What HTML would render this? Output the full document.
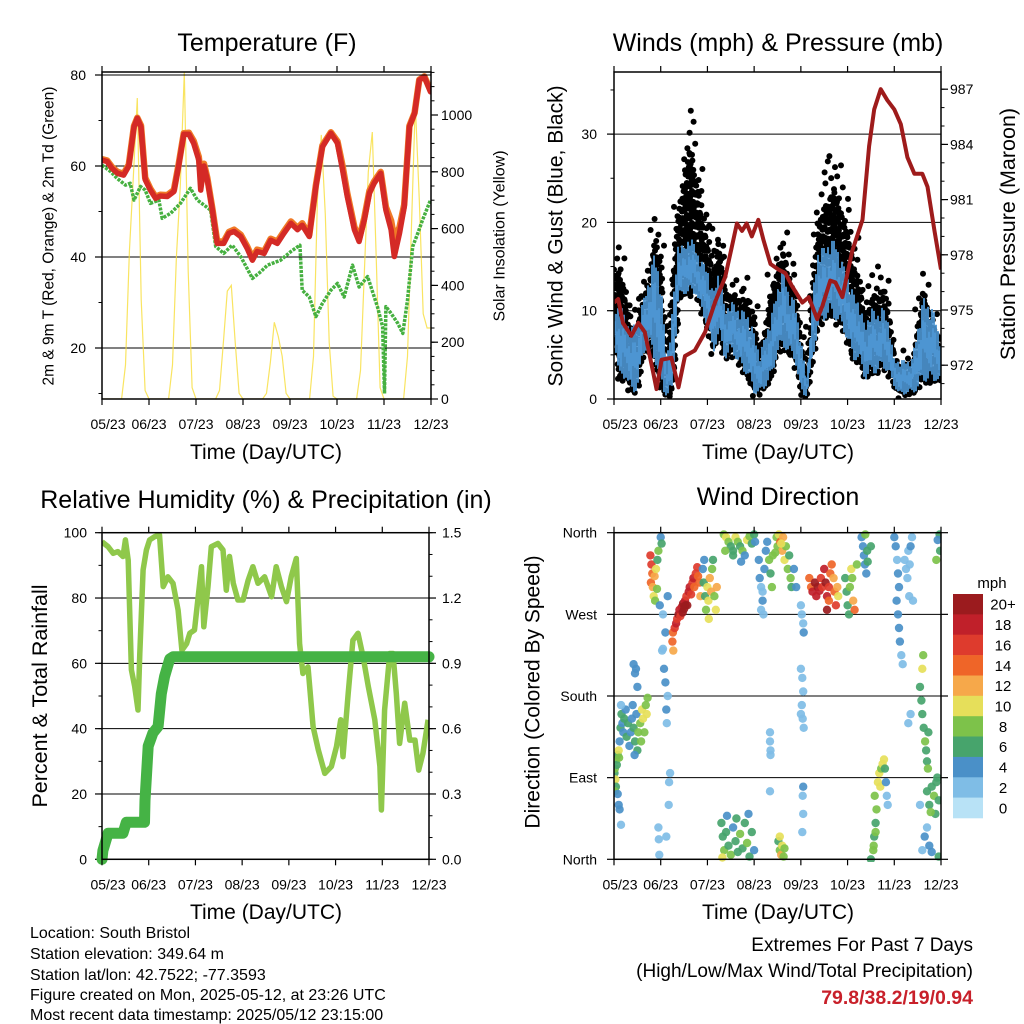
<!DOCTYPE html>
<html><head><meta charset="utf-8"><style>
html,body{margin:0;padding:0;background:#fff;}
svg{display:block;font-family:"Liberation Sans",Arial,sans-serif;}
</style></head><body>
<svg id="chart" width="1024" height="1024" viewBox="0 0 1024 1024" xmlns="http://www.w3.org/2000/svg">
<rect x="0" y="0" width="1024" height="1024" fill="#fff"/>
<defs>
<clipPath id="cT"><rect x="102" y="72" width="329" height="327"/></clipPath>
<clipPath id="cW"><rect x="614" y="72" width="327" height="327"/></clipPath>
<clipPath id="cR"><rect x="102" y="532.7" width="327" height="326.6"/></clipPath>
<clipPath id="cD"><rect x="614" y="530" width="327" height="332"/></clipPath>
</defs>
<text x="267" y="51" font-size="25" text-anchor="middle">Temperature (F)</text>
<text x="778" y="51" font-size="25" text-anchor="middle">Winds (mph) &amp; Pressure (mb)</text>
<text x="266" y="508" font-size="25" text-anchor="middle">Relative Humidity (%) &amp; Precipitation (in)</text>
<text x="778" y="505" font-size="25" text-anchor="middle">Wind Direction</text>
<text x="266" y="459" font-size="21" text-anchor="middle">Time (Day/UTC)</text>
<text x="778" y="459" font-size="21" text-anchor="middle">Time (Day/UTC)</text>
<text x="266" y="919" font-size="21" text-anchor="middle">Time (Day/UTC)</text>
<text x="778" y="919" font-size="21" text-anchor="middle">Time (Day/UTC)</text>
<text transform="translate(49,236) rotate(-90)" font-size="15.5" text-anchor="middle" dominant-baseline="central">2m &amp; 9m T (Red, Orange) &amp; 2m Td (Green)</text>
<text transform="translate(500,236) rotate(-90)" font-size="16" text-anchor="middle" dominant-baseline="central">Solar Insolation (Yellow)</text>
<text transform="translate(556,236) rotate(-90)" font-size="21" text-anchor="middle" dominant-baseline="central">Sonic Wind &amp; Gust (Blue, Black)</text>
<text transform="translate(1008,234) rotate(-90)" font-size="21.5" text-anchor="middle" dominant-baseline="central">Station Pressure (Maroon)</text>
<text transform="translate(40,696) rotate(-90)" font-size="21.5" text-anchor="middle" dominant-baseline="central">Percent &amp; Total Rainfall</text>
<text transform="translate(533,692) rotate(-90)" font-size="21" text-anchor="middle" dominant-baseline="central">Direction (Colored By Speed)</text>
<text x="992" y="588" font-size="15" text-anchor="middle">mph</text>
<g font-size="16">
<text x="30" y="938">Location: South Bristol</text>
<text x="30" y="959">Station elevation: 349.64 m</text>
<text x="30" y="980">Station lat/lon: 42.7522; -77.3593</text>
<text x="30" y="1000">Figure created on Mon, 2025-05-12, at 23:26 UTC</text>
<text x="30" y="1020">Most recent data timestamp: 2025/05/12 23:15:00</text>
</g>
<text x="973" y="951" font-size="19" text-anchor="end">Extremes For Past 7 Days</text>
<text x="973" y="977" font-size="19" text-anchor="end">(High/Low/Max Wind/Total Precipitation)</text>
<text x="973" y="1004" font-size="19.5" font-weight="bold" fill="#c8202a" text-anchor="end">79.8/38.2/19/0.94</text>
</svg>
<script>
// ---------- data ----------
const dayTickLabels = ["05/23","06/23","07/23","08/23","09/23","10/23","11/23","12/23"];
const tempDays = [0,0.11,0.21,0.33,0.46,0.57,0.68,0.75,0.83,0.92,1.03,1.14,1.24,1.39,1.53,1.63,1.74,1.85,1.95,2.06,2.10,2.17,2.24,2.35,2.45,2.59,2.70,2.81,2.95,3.09,3.20,3.30,3.45,3.59,3.73,3.87,4.02,4.16,4.26,4.41,4.55,4.69,4.87,5.01,5.12,5.22,5.37,5.47,5.58,5.69,5.79,5.93,6.04,6.15,6.22,6.33,6.43,6.54,6.65,6.75,6.86,6.99];
const tempRed = [61.3,61,59.5,58.4,58,60,68.6,70.5,68.6,57,54.7,52.9,53.4,53.3,54.4,60,67,67,65,61.3,54.7,60,57,50.3,43,43,45.2,45.6,44.5,41.9,39.3,41.2,40.8,43.7,43,45.2,47.4,46,47,44.5,55.5,64.2,67.2,65,59.1,53.3,46,43.4,48.1,54,56.2,58.4,50.3,46,40.1,45.2,51,68.6,71.6,78.9,79.6,76.3];
const tempOrange = [61.5,61.2,59.8,58.7,58.3,60.3,68.8,70.6,68.9,57.4,55,53.2,53.7,53.6,54.7,60.3,67.2,67.3,65.5,62,58,60.5,57.4,50.6,43.4,43.4,45.5,46,44.9,42.3,39.8,41.6,41.2,44,43.4,45.6,47.8,46.4,47.4,44.9,55.8,64.5,67.4,65.4,60,54,46.6,44,48.6,54.5,56.6,58.7,51,48,44,46.5,51.5,68.8,71.7,79,79.7,76.6];
const dewDays = [0,0.18,0.32,0.5,0.6,0.68,0.82,0.92,1.03,1.21,1.28,1.46,1.67,1.88,2.03,2.17,2.31,2.42,2.59,2.77,2.95,3.2,3.38,3.52,3.8,4.02,4.21,4.26,4.41,4.55,4.69,4.87,5.01,5.15,5.33,5.47,5.65,5.86,5.97,6.01,6.04,6.15,6.29,6.4,6.5,6.61,6.72,6.82,6.99];
const dewGreen = [60.2,58.8,57.3,55.8,56.2,52.5,55.5,54.7,51.8,52.5,48.5,49.6,51.8,55.1,52.5,51.4,50.3,42.3,40.8,42.6,40.1,35.3,36.8,38.2,39.3,41.2,42.6,32.7,31.2,26.9,29.8,32.7,34.2,31.2,38.2,33.4,35.7,29.1,24.7,10,29.1,27.6,25.5,23.2,30.5,42.3,45.2,48.1,52.5];
// solar insolation, every 2 hours
const solarW = [
0,0,0,0,0,0,120,520,780,1060,350,30,
0,0,0,0,0,0,120,500,750,1150,450,40,
0,0,0,0,0,0,30,200,380,400,200,20,
0,0,0,0,0,0,20,130,270,220,150,20,
0,0,0,0,0,0,150,700,930,650,200,10,
0,0,0,0,0,0,100,450,800,940,500,40,
0,0,0,0,0,0,150,600,1040,700,300,250,250];
const pressDays = [0,0.09,0.19,0.37,0.52,0.66,0.84,0.91,1.02,1.23,1.38,1.52,1.73,1.95,2.16,2.38,2.52,2.63,2.74,2.84,2.95,3.09,3.2,3.35,3.52,3.67,3.81,4.03,4.17,4.35,4.46,4.63,4.74,4.89,5.1,5.32,5.46,5.57,5.71,5.85,6.0,6.14,6.28,6.43,6.6,6.71,6.86,7.0];
const pressMb = [975.4,975.6,974.3,973.6,974.3,973.8,971.6,970.7,972.3,972.4,970.8,972.5,972.8,973.8,975.4,976.8,978.4,979.7,979.3,979.7,979,979.9,978.8,977.5,977.2,977,976.3,975.4,975.7,974.5,975.2,976.6,976.5,975.7,978.2,979.9,983.9,985.9,987,986.4,985.9,985.1,983.3,982.4,982.4,981.7,979.3,977.2];
// wind in 3-hour bins
const gustMax = [16.7,19,15.6,9.6,11.9,14.9,16.4,23.5,19.4,5.1,17.9,25,29.5,34.7,29.5,25.7,21.6,17.5,22.4,15.6,14.1,14.9,13.7,14.9,11.9,6.6,11.1,15.6,18.2,21.2,17.1,15.6,8.9,3.3,17.5,23.9,26.9,28,29.1,25.7,23.1,19.4,17.1,11.9,14.9,14.9,15.6,13.4,5.9,5.9,5.5,5.1,11.5,16,12.6,10.3,8.6];
const windHigh = [9.6,11.1,8.9,8.1,8.9,11.1,13.7,16.7,13.7,4.4,10,17.9,17.1,18.6,17.1,15.6,14.9,11.9,14.9,10,11.1,10.4,10,9.6,7.4,5.1,7.4,9.6,12.6,14.9,11.9,11.1,7,2.1,11.9,17.1,17.1,17.9,17.9,15.6,14.1,11.9,11.1,8.1,10.4,9.6,10.4,8.9,4.4,4.4,4.4,4.4,8.1,11.5,10.7,9.6,6.3];
const windLow = [7,1.8,2.5,0.6,1,5.1,5.9,4.4,1.4,0.3,0.6,11.1,11.9,11.9,11.9,10,8.1,5.1,7.4,4.4,5.5,4.4,3.3,2.5,0.6,0.6,1.4,2.5,5.1,5.9,5.1,4.4,0.6,0.3,4.4,8.1,8.9,9.6,8.9,8.1,6.6,4.4,4.4,2.1,2.9,2.9,3.6,2.9,1.4,0.3,0.6,0.6,1,2.1,1.8,2.1,1.8];
const rhDays = [0,.13,.24,.34,.45,.5,.56,.63,.7,.77,.81,.88,.95,1.02,1.13,1.23,1.31,1.41,1.52,1.63,1.71,1.81,1.88,1.98,2.13,2.18,2.27,2.34,2.48,2.59,2.66,2.73,2.81,2.91,3.02,3.13,3.23,3.34,3.48,3.63,3.73,3.84,3.95,4.05,4.16,4.23,4.3,4.41,4.52,4.63,4.77,4.91,5.02,5.11,5.16,5.27,5.37,5.48,5.59,5.7,5.84,5.95,5.98,6.05,6.16,6.23,6.3,6.37,6.48,6.59,6.7,6.78,6.87,6.98];
const rhPct = [97.2,95.7,93.7,94.2,92.7,97.8,91.6,58,52.9,45.7,63,88.6,94.7,97.8,98.8,99.3,83.5,86.5,84.5,76.3,64,66,69.2,70.2,89.6,71.2,83.5,95.7,96.7,94.7,82.4,92.7,84.5,79.4,79.4,85.5,89.6,84.5,86.5,80.4,89.6,83.5,78.9,86.5,92.1,66,56.9,58.9,40.6,33.5,26.3,28.4,34.5,42.7,31.4,50.8,67.1,69.2,62,52.9,42.7,28.4,15.1,45.7,63,63,50.8,35.5,47.8,36.5,36.5,27.3,32.4,42.7];
const precipDays = [0,.02,.13,.45,.52,.91,.92,.99,1.09,1.2,1.27,1.34,1.45,1.52,7.0];
const precipIn = [0,.04,.12,.12,.17,.17,.27,.52,.58,.61,.76,.84,.92,.93,.93];
const dirTime = [
.01,.02,.03,.05,.06,.08,.1,.11,.04,.02,
.12,.14,.16,.18,.2,.22,.25,.27,.3,.33,.36,.38,.4,.42,.45,.48,.5,.52,.15,.44,
.56,.6,.62,.65,.68,.7,.72,.58,
.1,.12,.15,.08,.45,.47,.5,.42,
.78,.8,.82,.79,.83,.85,.87,.9,.92,.88,.93,.95,
1,1.02,.98,1.05,1.1,1.03,1.07,1.1,1.15,1.12,1.13,1.2,1.18,1.17,1.12,.95,.96,1.15,1.05,.97,
1.25,1.27,1.26,1.3,1.33,1.35,1.38,1.4,1.42,1.45,1.48,1.5,1.52,1.55,1.57,1.6,1.62,1.65,1.68,1.7,1.72,1.75,1.78,1.8,1.83,1.85,1.47,1.53,
1.9,1.92,1.95,1.97,2,2.02,2.05,2.08,2.1,2.12,2.15,2.18,2.2,2.03,1.93,
2.35,2.4,2.45,2.5,2.55,2.6,2.65,2.7,2.75,2.8,2.85,2.9,2.95,3,2.55,2.72,2.38,3.02,
2.3,2.33,2.36,2.4,2.45,2.5,2.55,2.6,2.65,2.7,2.75,2.8,2.85,2.9,2.95,3,2.32,2.42,2.62,2.88,
3.1,3.12,3.15,3.18,3.2,3.22,3.25,3.28,3.32,3.35,3.38,3.4,3.15,3.18,
3.48,3.5,3.53,3.56,3.6,3.62,3.65,3.68,3.72,3.75,3.78,3.8,3.85,3.9,3.58,3.45,
3.52,3.55,3.58,3.6,3.63,3.65,3.55,
3.34,3.34,3.35,3.35,3.34,4,4.02,4.05,4,4.03,4.05,4.02,4.04,4.06,4,4.05,4.04,4.05,4.03,4.06,
4.18,4.22,4.25,4.3,4.33,4.36,4.4,4.43,4.46,4.5,4.53,4.56,4.6,4.63,4.66,4.7,4.72,4.75,4.56,4.6,4.78,4.8,
4.95,4.98,5,5.03,5.05,5.08,5.1,5.12,5.15,5.2,
5.3,5.33,5.35,5.37,5.4,5.42,5.38,5.43,5.5,
5.55,5.57,5.6,5.62,5.58,5.65,5.68,5.7,5.72,5.75,5.78,5.8,5.82,5.84,5.86,5.5,5.56,5.6,
6,6.03,6.06,6.08,6.1,6.05,6.08,6.1,6.12,6.15,6.18,6.22,6.25,6.28,6.3,6.33,6.35,6.38,6.32,6.4,6.3,6.35,
6.55,6.58,6.6,6.63,6.66,6.68,6.7,6.72,6.6,6.62,6.73,
6.7,6.75,6.8,6.85,6.88,6.9,6.95,6.92,6.78,
6.6,6.65,6.7,6.75,6.8,6.55,6.95,6.97,6.93,6.98,6.9];
const dirDeg = [
95,100,88,110,104,115,120,112,80,75,
130,145,160,150,140,155,165,135,150,125,140,155,170,145,130,160,120,140,170,115,
150,165,155,140,170,160,178,130,
60,55,38,72,205,210,190,215,
335,325,315,305,300,290,312,320,298,285,330,340,
355,348,280,270,250,230,210,195,180,165,150,95,85,60,25,35,22,290,232,5,
240,230,250,255,260,265,270,275,268,278,282,276,285,290,280,295,300,292,305,310,300,315,322,312,305,290,272,280,
320,305,290,275,300,285,310,295,320,330,290,275,300,265,330,
358,355,350,345,340,355,350,345,340,335,352,356,348,358,335,328,340,350,
40,25,10,30,15,5,35,20,8,28,12,40,18,3,30,10,2,48,45,50,
330,310,300,285,270,320,340,350,330,315,300,335,275,295,
355,345,358,350,340,355,330,345,320,335,310,300,320,300,348,338,
20,10,5,15,3,12,25,
140,130,120,115,75,280,270,260,210,200,185,170,155,145,160,80,70,50,30,250,
310,300,295,305,290,300,296,310,300,320,305,290,300,315,325,310,295,280,275,285,300,290,
310,295,280,270,300,320,310,285,275,325,
355,345,335,325,315,340,358,328,345,
10,25,40,55,70,85,95,80,100,105,110,100,85,70,60,0,15,30,
355,345,330,315,300,285,270,255,240,225,215,330,320,310,340,325,345,355,290,285,150,160,
190,175,160,145,130,120,108,100,210,225,140,
75,60,80,70,50,85,65,90,52,
10,25,35,15,8,60,3,358,352,340,330];
const dirSpeed = [
6,8,9,7,5,6,9,8,6,7,
4,5,6,4,3,5,4,6,5,4,3,4,3,5,6,4,5,7,2,3,
8,9,10,8,7,9,8,7,
3,4,2,4,4,3,3,3,
16,15,14,13,12,10,11,9,8,7,6,8,
4,5,3,2,3,2,4,3,2,3,1,1,1,1,2,2,1,4,2,2,
13,12,14,15,17,16,19,18,16,17,20,19,18,16,20,17,18,16,15,17,14,16,15,13,14,12,21,22,
4,5,6,8,9,10,11,12,7,6,8,10,12,9,3,
8,9,7,6,5,10,8,6,7,4,9,8,6,5,6,4,8,4,
5,6,7,6,5,7,4,6,5,7,6,5,7,6,5,4,9,4,6,4,
4,3,2,3,2,4,3,4,7,6,7,8,2,2,
8,7,10,13,11,12,9,8,7,6,8,6,4,3,10,7,
6,8,12,10,8,7,9,
1,2,1,1,1,2,1,1,1,1,1,1,1,1,2,3,1,1,1,3,
14,13,17,19,18,20,18,16,15,17,19,18,15,14,13,12,14,16,19,13,11,10,
6,5,6,5,8,9,7,12,13,7,
3,4,3,4,3,5,7,6,6,
7,6,6,7,8,9,10,9,8,10,9,5,3,2,2,6,8,7,
4,3,2,3,4,4,3,4,3,2,2,2,1,2,1,2,3,2,1,2,2,2,
6,6,5,6,7,6,5,7,10,8,6,
6,6,5,7,6,6,5,6,8,
2,3,2,4,4,2,6,6,4,5,7];
const speedBinLabels = ["0","2","4","6","8","10","12","14","16","18","20+"];
const speedBinColors = ["#b8e2f6","#7fbde6","#4a90c8","#47a46c","#7dc24a","#e6df5a","#f6a84a","#ef6528","#de3b2d","#c0202a","#9b1b1e"];
const tempLeftTicks = [20,40,60,80];
const solarTicks = [0,200,400,600,800,1000];
const windTicks = [0,10,20,30];
const pressTicks = [972,975,978,981,984,987];
const rhTicks = [0,20,40,60,80,100];
const precipTicks = [0,0.3,0.6,0.9,1.2,1.5];
const precipTickLabels = ["0.0","0.3","0.6","0.9","1.2","1.5"];
const dirTicks = [0,90,180,270,360];
const dirTickLabels = ["North","East","South","West","North"];

// ---------- helpers ----------
const NS = "http://www.w3.org/2000/svg";
const svg = document.getElementById('chart');
function mk(tag, attrs, parent){
  const e = document.createElementNS(NS, tag);
  for (const k in attrs) e.setAttribute(k, attrs[k]);
  (parent || svg).appendChild(e);
  return e;
}
const PT = {x0:102,x1:431,y0:72,y1:399};
const PW = {x0:614,x1:941,y0:72,y1:399};
const PR = {x0:102,x1:429,y0:532.7,y1:859.3};
const PD = {x0:614,x1:941,y0:532.7,y1:859.3};
function xScale(p){ return d => p.x0 + d/7*(p.x1-p.x0); }
const xT = xScale(PT), xW = xScale(PW), xR = xScale(PR), xD = xScale(PD);
const yTemp = v => 348 - (v-20)*4.55;
const ySolar = w => 399 - w*0.284;
const yWind = v => 399 - v*8.83;
const yPress = p => 310 - (p-975)*18.4;
const yRH = v => PR.y1 - v/100*(PR.y1-PR.y0);
const yPrecip = v => PR.y1 - v/1.5*(PR.y1-PR.y0);
const yDir = d => PD.y1 - d/360*(PD.y1-PD.y0);

function line(x1,y1,x2,y2,stroke,w,name){
  const l = mk('line',{x1:x1,y1:y1,x2:x2,y2:y2,stroke:stroke,'stroke-width':w});
  
  
  return l;
}
function label(x,y,txt,anchor,size,name){
  const t = mk('text',{x:x,y:y,'text-anchor':anchor,'font-size':size});
  t.textContent = txt;
  
  
  return t;
}
function pathFrom(xs, ys, fx, fy){
  let d = '';
  for (let i=0;i<xs.length;i++) d += (i?'L':'M') + fx(xs[i]).toFixed(1) + ',' + fy(ys[i]).toFixed(1);
  return d;
}
function frame(p, name){
  const r = mk('rect',{x:p.x0,y:p.y0,width:p.x1-p.x0,height:p.y1-p.y0,fill:'none',stroke:'#000','stroke-width':1.5});
  
  
}
function xAxis(p, fx, prefix){
  for (let i=0;i<dayTickLabels.length;i++){
    const x = fx(i);
    line(x,p.y1,x,p.y1+6,'#000',1.2,prefix+'-x-tick');
    line(x,p.y0,x,p.y0-6,'#000',1.2,prefix+'-x-tick-top');
    label(x+(i===0?6:0),p.y1+30,dayTickLabels[i],'middle',14,prefix+'-x-tick-label');
  }
}
function yTicks(p, vals, fy, side, fmt, lblX, prefix, minorStep, grid){
  const xe = side==='L' ? p.x0 : p.x1, dir = side==='L' ? -1 : 1;
  const lo = Math.min(...vals), hi = Math.max(...vals);
  for (let v = lo - minorStep*20; v <= hi + minorStep*20 + 1e-9; v += minorStep){
    const y = fy(v);
    if (y < p.y0-0.5 || y > p.y1+0.5) continue;
    line(xe,y,xe+dir*3.5,y,'#000',1,prefix+'-minor-tick');
  }
  vals.forEach((v,i)=>{
    const y = fy(v);
    if (y < p.y0-1 || y > p.y1+1) return;
    line(xe,y,xe+dir*7,y,'#000',1.2,prefix+'-major-tick');
    label(lblX,y+5,fmt(v,i),side==='L'?'end':'start',14,prefix+'-tick-label');
    if (grid && y > p.y0+1 && y < p.y1-1) line(p.x0,y,p.x1,y,'#000',1,prefix+'-gridline');
  });
}

// ---------- Temperature panel ----------
yTicks(PT, tempLeftTicks, yTemp, 'L', v=>String(v), 86, 'temp-left', 10, true);
yTicks(PT, solarTicks, ySolar, 'R', v=>String(v), 441, 'solar-right', 50, false);
const gT = mk('g',{'clip-path':'url(#cT)'});


const solarDays = solarW.map((w,i)=>i/12);
const sp = mk('path',{d:pathFrom(solarDays, solarW, xT, ySolar),fill:'none',stroke:'#f7dd3a','stroke-width':1.2,'stroke-opacity':0.8},gT);


const dp = mk('path',{d:pathFrom(dewDays, dewGreen, xT, yTemp),fill:'none',stroke:'#46b040','stroke-width':3.5,'stroke-dasharray':'3 1.2','stroke-linejoin':'round'},gT);


const op = mk('path',{d:pathFrom(tempDays, tempOrange, xT, yTemp),fill:'none',stroke:'#f07a26','stroke-width':6.5,'stroke-linejoin':'round','stroke-linecap':'round'},gT);


const rp = mk('path',{d:pathFrom(tempDays, tempRed, xT, yTemp),fill:'none',stroke:'#d42a26','stroke-width':5.5,'stroke-linejoin':'round','stroke-linecap':'round'},gT);


line(PT.x0,75,PT.x1,75,'#000',1,'temp-80-gridline');
frame(PT,'temperature-frame');
xAxis(PT, xT, 'temp');

// ---------- Wind panel ----------
yTicks(PW, windTicks, yWind, 'L', v=>String(v), 597, 'wind-left', 5, true);
yTicks(PW, pressTicks, yPress, 'R', v=>String(v), 950, 'pressure-right', 1, false);
const gW = mk('g',{'clip-path':'url(#cW)'});


function interp(arr, d){
  const f = d/0.125, i = Math.min(Math.floor(f), arr.length-2), t = f - i;
  return arr[i]*(1-t) + arr[i+1]*t;
}
const maxDay = (gustMax.length-1)*0.125;
const gustG = mk('g',{fill:'#000'},gW);


const jx = [0,1.6,-1.2,0.8,-0.6,1.3,-1.5,0.4];
const jy = [0,2.2,-1.4,1.1,-2.3,0.6,1.8,-0.8];
let col = 0;
for (let px = PW.x0; px <= PW.x1; px += 2.6, col++){
  const d = Math.min((px-PW.x0)/(PW.x1-PW.x0)*7, maxDay);
  const lo = interp(windLow, d), top = interp(gustMax, d);
  const yLo = yWind(lo), yTop = yWind(top);
  const yDense = yLo - (yLo - yTop)*0.72;
  let k = col;
  for (let y = yLo - (col%2)*2; y >= yDense; y -= 4.0, k++){
    const c = mk('circle',{cx:(px+jx[k%8]).toFixed(1),cy:(y+jy[(k+3)%8]).toFixed(1),r:3},gustG);
    
    
  }
  if (col%3===0){
    for (let y = yDense - 6 - (col%2)*5; y >= yTop; y -= 11, k++){
      const c = mk('circle',{cx:(px+jx[k%8]*2).toFixed(1),cy:y.toFixed(1),r:3},gustG);
      
      
    }
  }
}
const hiF = [1,0.72,0.9,0.55,0.95,0.65,0.82,0.6,1,0.75];
const loF = [0,0.2,0.05,0.35,0.1,0.25,0,0.4,0.15,0.3];
let bd = '';
col = 0;
for (let px = PW.x0; px <= PW.x1; px += 1.0, col++){
  const d = Math.min((px-PW.x0)/(PW.x1-PW.x0)*7, maxDay);
  const hi = interp(windHigh, d), lo = interp(windLow, d);
  const h = lo + (hi-lo)*hiF[col%10];
  const l = lo + (hi-lo)*loF[(col*3)%10];
  bd += 'M' + px.toFixed(1) + ',' + yWind(l).toFixed(1) + 'V' + yWind(h).toFixed(1);
}
const bp = mk('path',{d:bd,stroke:'#4d95d2','stroke-width':1.8,fill:'none'},gW);


const pp = mk('path',{d:pathFrom(pressDays, pressMb, xW, yPress),fill:'none',stroke:'#9e1b1b','stroke-width':4,'stroke-linejoin':'round'},gW);


frame(PW,'wind-frame');
xAxis(PW, xW, 'wind');

// ---------- RH panel ----------
yTicks(PR, rhTicks, yRH, 'L', v=>String(v), 87, 'rh-left', 10, true);
yTicks(PR, precipTicks, yPrecip, 'R', (v,i)=>precipTickLabels[i], 442, 'precip-right', 0.1, false);
const gR = mk('g',{'clip-path':'url(#cR)'});


const rhp = mk('path',{d:pathFrom(rhDays, rhPct, xR, yRH),fill:'none',stroke:'#8fc84b','stroke-width':5.5,'stroke-linejoin':'round'},gR);


const prp = mk('path',{d:pathFrom(precipDays, precipIn, xR, yPrecip),fill:'none',stroke:'#45b345','stroke-width':11,'stroke-linejoin':'round','stroke-linecap':'round'});


frame(PR,'rh-frame');
xAxis(PR, xR, 'rh');

// ---------- Wind direction panel ----------
dirTicks.forEach((v,i)=>{
  const y = yDir(v);
  line(PD.x0,y,PD.x0-7,y,'#000',1.2,'dir-major-tick');
  line(PD.x1,y,PD.x1+7,y,'#000',1.2,'dir-right-tick');
  label(597,y+5,dirTickLabels[i],'end',14,'dir-tick-label');
  if (i>0 && i<dirTicks.length-1) line(PD.x0,y,PD.x1,y,'#000',1,'dir-gridline');
});
const gD = mk('g',{'clip-path':'url(#cD)'});


for (let i=0;i<dirTime.length;i++){
  const bin = Math.min(10, Math.round(dirSpeed[i]/2));
  const c = mk('circle',{cx:xD(dirTime[i]).toFixed(1),cy:yDir(dirDeg[i]).toFixed(1),r:4.2,fill:speedBinColors[bin],'fill-opacity':0.92},gD);
  
  
}
frame(PD,'wind-direction-frame');
xAxis(PD, xD, 'dir');

// ---------- colorbar ----------
const cbTop = 594, cbH = 224/11;
for (let i=0;i<speedBinColors.length;i++){
  const idx = speedBinColors.length-1-i;
  const r = mk('rect',{x:953,y:(cbTop+i*cbH).toFixed(1),width:30,height:(cbH+0.3).toFixed(1),fill:speedBinColors[idx]});
  
  
  label(1003,cbTop+i*cbH+cbH/2+5.5,speedBinLabels[idx],'middle',15,'colorbar-label');
}
</script>
</body></html>
